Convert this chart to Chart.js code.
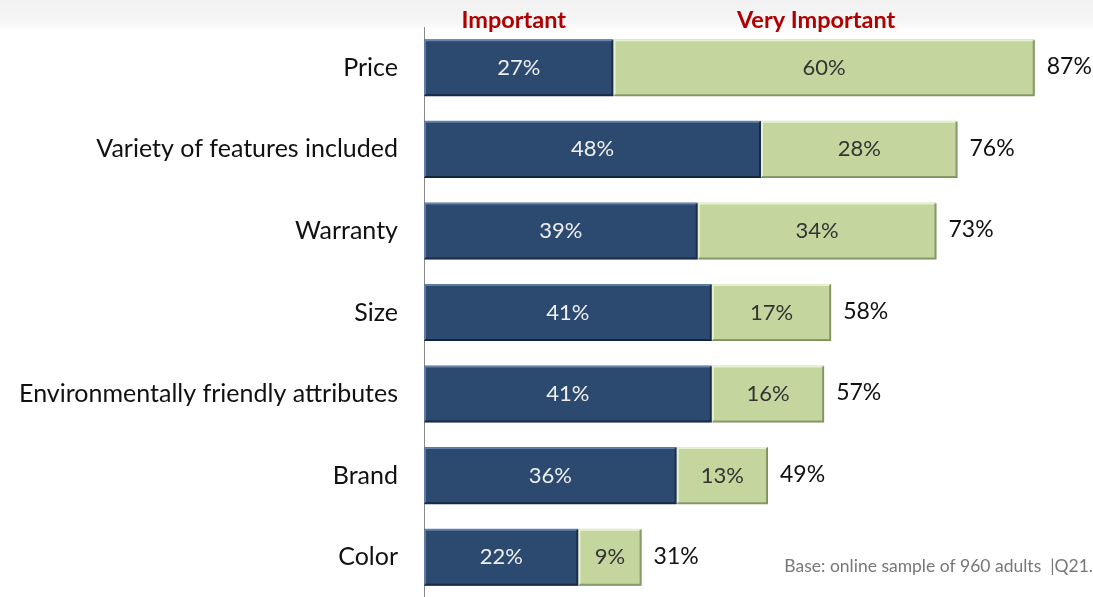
<!DOCTYPE html>
<html>
<head>
<meta charset="utf-8">
<script src="https://cdn.jsdelivr.net/npm/chart.js@4"></script>
<style>
  html, body { margin: 0; padding: 0; background: #fff; overflow: hidden; }
  #wrap { position: relative; width: 1093px; height: 597px; overflow: hidden;
    background: linear-gradient(to bottom, #f1f1f1 0px, #f6f6f6 22px, #ffffff 32px); }
</style>
</head>
<body>
<div id="wrap"><canvas id="attr_chart" width="1093" height="598"></canvas></div>
<script>
var categories = ['Price', 'Variety of features included', 'Warranty', 'Size',
    'Environmentally friendly attributes', 'Brand', 'Color'];
var important = [27, 48, 39, 41, 41, 36, 22];
var veryImportant = [60, 28, 34, 17, 16, 13, 9];
var totals = [87, 76, 73, 58, 57, 49, 31];
var seriesNames = ['Important', 'Very Important'];
var footnote = 'Base: online sample of 960 adults  |Q21.';

var FONT = "Lato, 'Open Sans', sans-serif";

// bevel edges + value labels + header labels + footnote
var labelPlugin = {
    id: 'labelPlugin',
    afterDatasetsDraw: function(chart) {
        var ctx = chart.ctx;
        ctx.save();
        chart.data.datasets.forEach(function(ds, di) {
            var meta = chart.getDatasetMeta(di);
            meta.data.forEach(function(bar, i) {
                var l = Math.min(bar.base, bar.x), r = Math.max(bar.base, bar.x);
                var t = bar.y - bar.height / 2, b = bar.y + bar.height / 2;
                // bevel
                ctx.lineWidth = 2;
                ctx.strokeStyle = di === 0 ? 'rgba(110,140,180,0.8)' : 'rgba(235,245,215,0.9)';
                ctx.beginPath();
                ctx.moveTo(l + 1, b - 1); ctx.lineTo(l + 1, t + 1); ctx.lineTo(r - 1, t + 1);
                ctx.stroke();
                ctx.strokeStyle = di === 0 ? 'rgba(15,30,55,0.8)' : 'rgba(120,140,90,0.8)';
                ctx.beginPath();
                ctx.moveTo(r - 1, t + 1); ctx.lineTo(r - 1, b - 1); ctx.lineTo(l + 1, b - 1);
                ctx.stroke();
                // value text
                ctx.font = '22px ' + FONT;
                ctx.textAlign = 'center';
                ctx.textBaseline = 'middle';
                ctx.fillStyle = di === 0 ? '#eeeeee' : '#333333';
                ctx.fillText(ds.data[i] + '%', (l + r) / 2, bar.y);
            });
        });
        // totals
        var last = chart.getDatasetMeta(1);
        ctx.font = '23px ' + FONT;
        ctx.textAlign = 'left';
        ctx.fillStyle = '#111111';
        last.data.forEach(function(bar, i) {
            ctx.fillText(totals[i] + '%', bar.x + 12, bar.y - 1);
        });
        // series header over the first bar
        var x = chart.scales.x;
        ctx.font = 'bold 23.5px ' + FONT;
        ctx.fillStyle = '#b00000';
        ctx.textAlign = 'center';
        ctx.fillText(seriesNames[0], x.getPixelForValue(important[0] / 2) - 5, 20);
        ctx.fillText(seriesNames[1], x.getPixelForValue(important[0] + veryImportant[0] / 2) - 8, 20);
        // footnote
        ctx.font = '17.5px ' + FONT;
        ctx.fillStyle = '#777777';
        ctx.textAlign = 'right';
        ctx.fillText(footnote, 1093, 566);
        ctx.restore();
    }
};

var ctx = document.getElementById('attr_chart').getContext('2d');
var attrChart = new Chart(ctx, {
    type: 'bar',
    data: {
        labels: categories,
        datasets: [
            {
                label: seriesNames[0],
                data: important,
                backgroundColor: '#2c4a70',
                borderColor: '#1c3252',
                borderWidth: 1,
                borderSkipped: false,
                barPercentage: 0.7,
                categoryPercentage: 1
            },
            {
                label: seriesNames[1],
                data: veryImportant,
                backgroundColor: '#c4d69e',
                borderColor: '#93a86c',
                borderWidth: 1,
                borderSkipped: false,
                barPercentage: 0.7,
                categoryPercentage: 1
            }
        ]
    },
    options: {
        indexAxis: 'y',
        responsive: false,
        animation: false,
        layout: { padding: { left: 0, right: 0, top: 27, bottom: 0 } },
        plugins: {
            legend: { display: false },
            tooltip: { enabled: false }
        },
        scales: {
            x: {
                stacked: true,
                min: 0,
                max: 95.3,
                display: false
            },
            y: {
                stacked: true,
                grid: { display: false, drawTicks: false },
                border: { display: true, color: '#888888', width: 1 },
                ticks: {
                    color: '#111111',
                    padding: 26,
                    font: { family: FONT, size: 25 }
                },
                afterFit: function(scale) {
                    scale.width = 424;
                    scale.paddingTop = 0;
                    scale.paddingBottom = 0;
                }
            }
        }
    },
    plugins: [labelPlugin]
});
</script>
</body>
</html>
